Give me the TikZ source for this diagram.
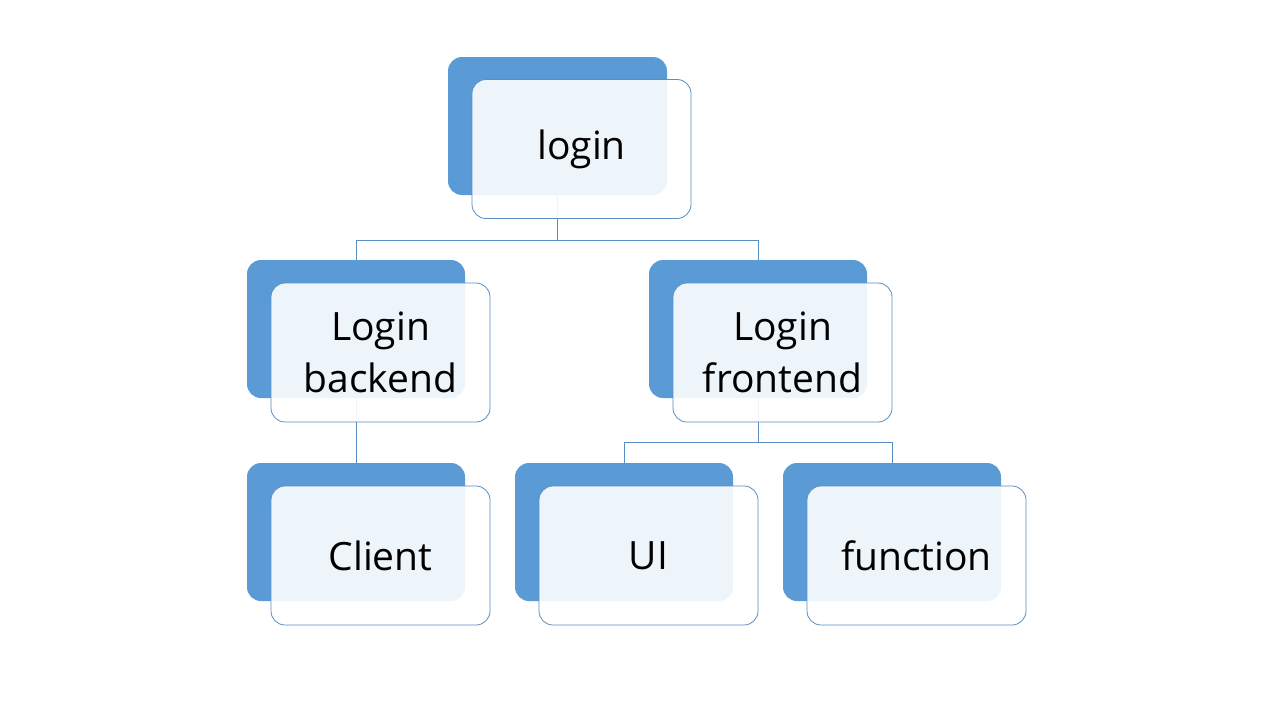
\documentclass[tikz,border=0pt]{standalone}
\usepackage{fontspec}
\setmainfont{Open Sans}
\begin{document}
\begin{tikzpicture}[x=1pt,y=-1pt]
\definecolor{accent}{HTML}{5B9BD5}
\definecolor{edge}{HTML}{5A8FC4}
\tikzset{
  backbox/.style={fill=accent, rounded corners=14pt},
  frontbox/.style={draw=edge, line width=0.8pt, fill=white, fill opacity=0.9, text opacity=1, rounded corners=14pt, minimum width=219pt, minimum height=139pt, inner sep=0pt, align=center, font=\fontsize{39}{52}\selectfont},
  link/.style={draw=edge, line width=0.8pt}
}
\fill[white] (0,0) rectangle (1280,720);
\useasboundingbox (0,0) rectangle (1280,720);
% back boxes
\fill[backbox] (448,57) rectangle (667,195);
\fill[backbox] (247,260) rectangle (465,398);
\fill[backbox] (649,260) rectangle (867,398);
\fill[backbox] (247,463) rectangle (465,601);
\fill[backbox] (515,463) rectangle (733,601);
\fill[backbox] (783,463) rectangle (1001,601);
% anchor coordinates for connectors
\coordinate (b0) at (557.5,195);
\coordinate (b1) at (356,260);
\coordinate (b1b) at (356,398);
\coordinate (b2) at (758,260);
\coordinate (b2b) at (758,398);
\coordinate (b3) at (356,463);
\coordinate (b4) at (624,463);
\coordinate (b5) at (892,463);
% connectors
\draw[link] (b0) -- (557.5,240) -| (b1);
\draw[link] (557.5,240) -| (b2);
\draw[link] (b1b) -- (b3);
\draw[link] (b2b) -- (758,442) -| (b4);
\draw[link] (758,442) -| (b5);
% front boxes
\node[frontbox] (login) at (581.5,149) {\raisebox{-3pt}{login}};
\node[frontbox] (backend) at (380.5,352.5) {Login\\backend};
\node[frontbox] (frontend) at (782.5,352.5) {Login\\frontend};
\node[frontbox] (client) at (380.5,555.5) {Client};
\node[frontbox] (ui) at (648.5,555.5) {UI};
\node[frontbox] (function) at (916.5,555.5) {function};
\end{tikzpicture}
\end{document}
